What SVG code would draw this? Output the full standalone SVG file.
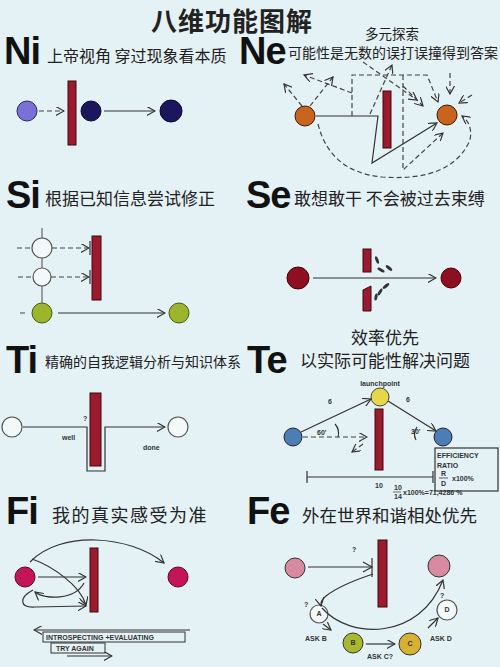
<svg xmlns="http://www.w3.org/2000/svg" width="500" height="667" viewBox="0 0 500 667">
<style>
.big{font-family:"Liberation Sans",Arial,sans-serif;font-weight:bold;font-size:38px;fill:#111;letter-spacing:-1px}
.cn{font-family:"Noto Sans CJK SC","Noto Sans",sans-serif;fill:#222}
.bar{fill:#9c1a2e;stroke:#3a0a10;stroke-width:1}
.ln{stroke:#333;stroke-width:1.2;fill:none}
.dash{stroke:#444;stroke-width:1.2;fill:none;stroke-dasharray:5 3}
.open{fill:#f3f8f9;stroke:#555;stroke-width:1.2}
.tiny{font-family:"Liberation Sans",Arial,sans-serif;font-weight:bold;font-size:7px;fill:#333}
</style>
<defs>
<marker id="ar" viewBox="0 0 10 10" refX="9" refY="5" markerWidth="9" markerHeight="9" markerUnits="userSpaceOnUse" orient="auto">
<path d="M0,0 L9,5 L0,10" fill="none" stroke="#333" stroke-width="1.3"/>
</marker>
</defs>
<rect width="500" height="667" fill="#e4f1f5"/>
<text x="232" y="31" text-anchor="middle" class="cn" font-size="26" font-weight="bold" fill="#111" letter-spacing="1">八维功能图解</text>

<g id="Ni">
<text x="4" y="64" class="big" font-size="37">Ni</text>
<text x="47" y="62" class="cn" font-size="16">上帝视角 穿过现象看本质</text>
<circle cx="27" cy="111" r="10" fill="#7a70d8" stroke="#2a2a60"/>
<rect x="68" y="81" width="8" height="64" class="bar"/>
<circle cx="91" cy="111" r="10" fill="#1c165e" stroke="#0c0a30"/>
<circle cx="171" cy="111" r="11" fill="#1c165e" stroke="#0c0a30"/>
</g>

<g id="Ne">
<text x="239" y="64" class="big" font-size="37">Ne</text>
<text x="365" y="39" class="cn" font-size="13.5">多元探索</text>
<text x="288" y="58" class="cn" font-size="14">可能性是无数的误打误撞得到答案</text>
<circle cx="305" cy="116" r="10" fill="#c9641e" stroke="#3b1a05"/>
<rect x="383" y="91" width="8" height="57" class="bar"/>
<circle cx="447" cy="115" r="10" fill="#c9641e" stroke="#3b1a05"/>
</g>

<g id="Si">
<text x="6" y="208" class="big">Si</text>
<text x="45" y="205" class="cn" font-size="17">根据已知信息尝试修正</text>
<line x1="42" y1="228" x2="42" y2="303" stroke="#666" stroke-width="1.2"/>
<circle cx="42" cy="248" r="10" class="open"/>
<circle cx="42" cy="277" r="9" class="open"/>
<rect x="92" y="236" width="9" height="64" class="bar"/>
<circle cx="42" cy="313" r="10" fill="#9cb52c" stroke="#4a5a10"/>
<circle cx="179" cy="313" r="10" fill="#9cb52c" stroke="#4a5a10"/>
</g>

<g id="Se">
<text x="246" y="208" class="big">Se</text>
<text x="294" y="205" class="cn" font-size="17">敢想敢干 不会被过去束缚</text>
<circle cx="298" cy="278" r="11" fill="#8e0f22" stroke="#400"/>
<rect x="363" y="249" width="8" height="23" class="bar"/>
<polygon points="363,290 371,286 371,311 363,311" class="bar"/>
<g fill="#333">
<ellipse cx="377" cy="260" rx="1.5" ry="4" transform="rotate(-20 377 260)"/>
<ellipse cx="381" cy="270" rx="1.5" ry="4" transform="rotate(-60 381 270)"/>
<ellipse cx="389" cy="268" rx="1.5" ry="4" transform="rotate(-50 389 268)"/>
<ellipse cx="386" cy="286" rx="1.5" ry="4" transform="rotate(50 386 286)"/>
<ellipse cx="380" cy="292" rx="1.5" ry="4" transform="rotate(30 380 292)"/>
<ellipse cx="376" cy="297" rx="1.5" ry="3.5" transform="rotate(10 376 297)"/>
</g>
<circle cx="451" cy="278" r="10" fill="#8e0f22" stroke="#400"/>
</g>

<g id="Ti">
<text x="6" y="373" class="big">Ti</text>
<text x="45" y="367" class="cn" font-size="14">精确的自我逻辑分析与知识体系</text>
<circle cx="12" cy="427" r="10" class="open" stroke="#444"/>
<rect x="90" y="393" width="11" height="73" class="bar"/>
<circle cx="178" cy="427" r="10" class="open" stroke="#444"/>
<text x="83" y="421" class="tiny">?</text>
<text x="62" y="440" class="tiny">well</text>
<text x="143" y="450" class="tiny">done</text>
</g>

<g id="Te">
<text x="247" y="373" class="big">Te</text>
<text x="385" y="344" text-anchor="middle" class="cn" font-size="17">效率优先</text>
<text x="300" y="367" class="cn" font-size="17">以实际可能性解决问题</text>
<text x="380" y="386" text-anchor="middle" class="tiny" font-size="5">launchpoint</text>
<circle cx="380" cy="397" r="9" fill="#e6d64a" stroke="#444"/>
<circle cx="293" cy="437" r="9" fill="#4d7db5" stroke="#223"/>
<circle cx="443" cy="437" r="9" fill="#4d7db5" stroke="#223"/>
<rect x="375" y="409" width="8" height="61" class="bar"/>
<text x="328" y="404" class="tiny">6</text>
<text x="406" y="402" class="tiny">6</text>
<path d="M335,424 A14,14 0 0 1 338,437" class="ln"/>
<text x="317" y="435" class="tiny">60'</text>
<path d="M417,427 A12,12 0 0 0 416,440" class="ln"/>
<text x="411" y="434" class="tiny">30'</text>
<path d="M307,477 L433,477 M307,471 L307,483 M433,471 L433,483" class="ln"/>
<text x="375" y="488" class="tiny" font-size="6">10</text>
<rect x="435" y="448" width="63" height="43" fill="none" stroke="#333" stroke-width="1.2"/>
<text x="437" y="458" class="tiny" font-size="6.5">EFFICIENCY</text>
<text x="437" y="468" class="tiny" font-size="6.5">RATIO</text>
<text x="441" y="476" class="tiny" font-size="6">R</text>
<line x1="439" y1="478" x2="448" y2="478" stroke="#333" stroke-width="0.8"/>
<text x="441" y="486" class="tiny" font-size="6">D</text>
<text x="452" y="481" class="tiny" font-size="6">x100%</text>
<text x="394" y="490" class="tiny" font-size="5.5">10</text>
<line x1="393" y1="492" x2="401" y2="492" stroke="#333" stroke-width="0.7"/>
<text x="394" y="499" class="tiny" font-size="5.5">14</text>
<text x="403" y="495" class="tiny" font-size="5.5">x100%=71,4286 %</text>
</g>

<g id="Fi">
<text x="6" y="524" class="big">Fi</text>
<text x="52" y="522" class="cn" font-size="18" letter-spacing="1.5">我的真实感受为准</text>
<circle cx="25" cy="577" r="10" fill="#c41558" stroke="#5a0a25"/>
<rect x="90" y="548" width="8" height="64" class="bar"/>
<circle cx="178" cy="577" r="10" fill="#c41558" stroke="#5a0a25"/>
<rect x="43" y="632" width="142" height="10" fill="none" stroke="#333" stroke-width="1"/>
<text x="46" y="640" class="tiny" font-size="6.5">INTROSPECTING +EVALUATING</text>
<rect x="51" y="643" width="54" height="10" fill="none" stroke="#333" stroke-width="1"/>
<text x="56" y="651" class="tiny" font-size="6.5">TRY AGAIN</text>
</g>

<g id="Fe">
<text x="247" y="524" class="big">Fe</text>
<text x="302" y="522" class="cn" font-size="17.5">外在世界和谐相处优先</text>
<circle cx="295" cy="568" r="10" fill="#d88aa2" stroke="#333"/>
<text x="352" y="552" class="tiny" font-size="6">?</text>
<rect x="378" y="540" width="9" height="67" class="bar"/>
<circle cx="439" cy="566" r="11" fill="#d88aa2" stroke="#333"/>
<circle cx="319" cy="614" r="9" class="open"/>
<text x="319" y="616" text-anchor="middle" class="tiny" font-size="5">A</text>
<text x="304" y="607" class="tiny" font-size="6">?</text>
<text x="305" y="641" class="tiny" font-size="6">ASK B</text>
<circle cx="353" cy="643" r="10" fill="#a9b82f" stroke="#333"/>
<text x="353" y="645" text-anchor="middle" class="tiny" font-size="5">B</text>
<circle cx="410" cy="644" r="11" fill="#d8b034" stroke="#333"/>
<text x="410" y="646" text-anchor="middle" class="tiny" font-size="5">C</text>
<text x="367" y="659" class="tiny" font-size="6">ASK C?</text>
<text x="430" y="641" class="tiny" font-size="6">ASK D</text>
<circle cx="447" cy="610" r="10" class="open"/>
<text x="447" y="612" text-anchor="middle" class="tiny" font-size="5">D</text>
<text x="440" y="598" class="tiny" font-size="6">?</text>
</g>

<g id="connectors">
<path d="M39,111 L64,111" class="dash" marker-end="url(#ar)"/>
<path d="M104,111 L155,111" class="ln" marker-end="url(#ar)"/>
<path d="M316,116 L378,116 L372,163 L437,123" class="ln" marker-end="url(#ar)"/>
<path d="M302,106 L284,84" class="dash" marker-end="url(#ar)"/>
<path d="M310,106 L333,77" class="dash" marker-end="url(#ar)"/>
<path d="M352,93 L304,75" class="dash" marker-end="url(#ar)"/>
<path d="M352,116 L352,75 L427,75 L438,102" class="dash" marker-end="url(#ar)"/>
<path d="M363,62 L417,100" class="dash" marker-end="url(#ar)"/>
<path d="M370,114 L392,65" class="dash" marker-end="url(#ar)"/>
<path d="M403,75 L403,170 L443,133" class="dash" marker-end="url(#ar)"/>
<path d="M403,86 L423,106" class="dash" marker-end="url(#ar)"/>
<path d="M450,73 L450,94" class="dash" marker-end="url(#ar)"/>
<path d="M472,95 L459,103" class="dash" marker-end="url(#ar)"/>
<path d="M318,124 Q330,172 382,177 Q452,182 470,140 Q473,124 462,116" class="dash" marker-end="url(#ar)"/>
<path d="M17,248 L32,248 M18,277 L33,277 M20,313 L25,313" class="dash"/>
<path d="M52,248 L89,248" class="dash" marker-end="url(#ar)"/>
<path d="M51,277 L89,277" class="dash" marker-end="url(#ar)"/>
<path d="M90,241 L90,255 M90,270 L90,284" class="ln"/>
<path d="M58,313 L165,313" class="ln" marker-end="url(#ar)"/>
<path d="M313,278 L436,278" class="ln" marker-end="url(#ar)"/>
<path d="M23,427 L87,427 L87,471 L105,471 L105,427 L165,427" class="ln" marker-end="url(#ar)"/>
<path d="M301,432 L371,399" class="ln" marker-end="url(#ar)"/>
<path d="M388,401 L436,431" class="ln" marker-end="url(#ar)"/>
<path d="M303,437 L367,437" class="dash" marker-end="url(#ar)"/>
<path d="M363,444 L352,452" class="dash" marker-end="url(#ar)"/>
<path d="M30,562 C60,530 130,535 164,563" class="ln" marker-end="url(#ar)"/>
<path d="M38,577 L86,577" class="ln" marker-end="url(#ar)"/>
<path d="M32,559 C52,566 80,585 86,605" class="ln" marker-end="url(#ar)"/>
<path d="M84,583 C75,600 45,600 35,592" class="ln" marker-end="url(#ar)"/>
<path d="M33,590 C18,598 20,608 35,607 L86,606" class="ln" marker-end="url(#ar)"/>
<path d="M190,630 L34,630" class="ln" marker-end="url(#ar)"/>
<path d="M67,656 L112,656" class="ln" marker-end="url(#ar)"/>
<path d="M308,567 L372,567 M372,558 L372,577" class="ln"/>
<path d="M363,562 L372,567 L363,572" class="ln"/>
<path d="M373,574 Q340,585 326,596 Q320,601 321,606" class="ln" marker-end="url(#ar)"/>
<path d="M322,608 C350,640 420,640 443,580" class="ln" marker-end="url(#ar)"/>
<path d="M323,624 L331,630" class="ln" marker-end="url(#ar)"/>
<path d="M366,644 L395,644" class="ln" marker-end="url(#ar)"/>
<path d="M428,628 L438,618" class="ln" marker-end="url(#ar)"/>
</g>
</svg>
